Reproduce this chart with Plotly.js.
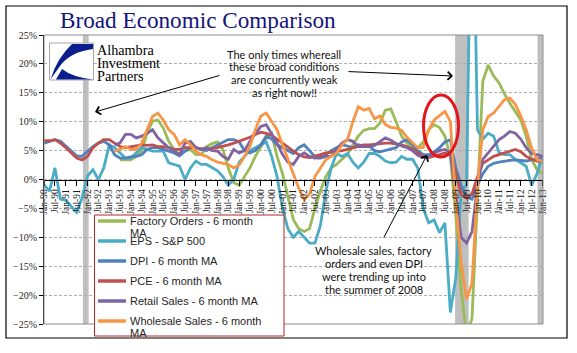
<!DOCTYPE html>
<html><head><meta charset="utf-8">
<script src="https://cdn.plot.ly/plotly-3.0.1.min.js"></script>
<style>html,body{margin:0;padding:0;background:#fff;}#chart{width:577px;height:353px;}</style>
</head><body><div id="chart"></div>
<script>
// ---------- DATA (quarterly readings, % y/y) ----------
const quarters = [
'1990-01','1990-04','1990-07','1990-10','1991-01','1991-04','1991-07','1991-10',
'1992-01','1992-04','1992-07','1992-10','1993-01','1993-04','1993-07','1993-10',
'1994-01','1994-04','1994-07','1994-10','1995-01','1995-04','1995-07','1995-10',
'1996-01','1996-04','1996-07','1996-10','1997-01','1997-04','1997-07','1997-10',
'1998-01','1998-04','1998-07','1998-10','1999-01','1999-04','1999-07','1999-10',
'2000-01','2000-04','2000-07','2000-10','2001-01','2001-04','2001-07','2001-10',
'2002-01','2002-04','2002-07','2002-10','2003-01','2003-04','2003-07','2003-10',
'2004-01','2004-04','2004-07','2004-10','2005-01','2005-04','2005-07','2005-10',
'2006-01','2006-04','2006-07','2006-10','2007-01','2007-04','2007-07','2007-10',
'2008-01','2008-04','2008-07','2008-10','2009-01','2009-04','2009-07','2009-10',
'2010-01','2010-04','2010-07','2010-10','2011-01','2011-04','2011-07','2011-10',
'2012-01','2012-04','2012-07','2012-10','2013-01'];

const seriesNames = ['Factory Orders - 6 month MA','EPS - S&P 500','DPI - 6 month MA',
  'PCE - 6 month MA','Retail Sales - 6 month MA','Wholesale Sales - 6 month MA'];
const seriesColors = ['#9BBB59','#4BACC6','#4F81BD','#C0504D','#8064A2','#F79646'];

const factoryOrders = [null,null,null,null,null,null,null,null,null,null,null,null,null,null,
 3.4,3.4,3.4,4.0,4.9,8.0,10.1,10.3,8.9,6.6,
 5.2,4.3,4.9,5.2,4.3,4.3,5.7,6.2,6.5,5.2,
 2.0,-0.5,-1.0,0.5,2.0,4.0,5.5,7.2,8.0,4.0,
 1.0,-3.0,-6.9,-8.5,-9.0,-8.5,-5.0,-2.0,0.5,2.0,
 2.6,3.5,4.3,6.0,7.5,8.5,8.8,8.8,9.8,12.0,
 12.2,10.0,7.5,6.3,5.7,5.5,6.5,8.6,9.5,9.0,
 7.5,4.0,-6.3,-19.0,-27.0,-24.0,-4.0,17.0,19.8,17.9,
 16.7,14.8,13.2,11.8,10.3,7.5,3.5,1.7,1.1];

const epsSP500 = [-1.0,-2.0,2.0,-3.4,-3.6,-4.6,-5.7,-3.2,0.6,1.7,
 0.0,2.0,6.0,5.5,4.6,3.7,3.7,4.6,5.5,5.2,
 4.9,4.9,4.9,2.9,2.6,2.3,0.0,2.0,3.2,2.6,
 2.6,2.0,1.5,0.5,-1.0,0.0,3.0,4.0,5.0,5.5,
 6.0,6.5,4.0,0.5,-5.0,-8.5,-10.0,-9.0,-10.0,-11.0,
 -11.0,-8.0,-2.0,2.0,4.5,4.0,4.5,3.0,2.0,3.0,
 4.5,4.5,4.0,3.2,2.9,3.0,4.0,3.5,3.5,2.0,
 -5.0,-7.5,-7.0,-9.2,-7.5,-23.0,-17.0,-2.0,-1.0,60,
 8.6,7.0,8.0,7.5,4.6,4.3,4.3,3.5,2.9,2.3,
 -1.0,1.0,4.0];

const dpi = [6.3,6.6,6.9,6.6,5.7,4.9,4.1,4.0,4.9,5.7,
 6.3,6.6,6.0,4.3,3.7,3.7,3.9,4.0,4.3,5.2,
 5.5,5.5,5.2,4.9,4.6,4.1,4.9,5.5,5.5,5.2,
 5.0,5.5,6.0,6.5,6.9,6.9,6.5,5.0,4.6,5.0,
 6.0,7.5,7.0,6.0,5.5,5.0,4.5,5.5,6.0,5.0,
 4.0,3.8,4.3,5.0,5.5,6.0,5.8,5.5,6.0,5.8,
 5.8,5.0,4.8,5.0,5.3,5.5,6.5,6.9,6.0,5.0,
 4.3,4.3,4.8,5.5,6.5,6.9,2.0,-1.0,-3.0,-3.4,
 -1.0,1.0,2.3,2.8,3.0,3.2,3.3,3.4,3.3,3.2,
 3.4,3.6,3.7];

const pce = [6.7,6.7,6.9,6.3,5.5,4.6,3.7,3.4,4.0,5.5,
 6.3,6.9,6.9,6.3,5.7,5.5,5.7,5.9,6.0,5.9,
 6.0,5.7,5.7,5.5,5.2,5.2,5.5,5.5,5.5,5.3,
 5.3,5.4,5.5,5.7,6.0,6.3,6.6,7.0,7.3,7.8,
 8.2,8.0,7.6,7.0,6.3,5.5,4.9,4.3,3.9,3.8,
 4.0,4.3,4.6,4.7,4.9,5.0,5.2,5.5,5.8,6.0,
 6.0,6.1,6.3,6.3,6.3,6.2,6.0,5.7,5.3,4.6,
 4.0,3.8,4.0,4.3,4.6,4.3,1.0,-2.6,-3.2,-2.5,
 0.5,2.8,3.4,4.0,4.3,4.6,5.0,5.2,4.8,4.0,
 3.5,3.2,3.2];

const retailSales = [null,null,null,null,null,null,null,null,null,null,null,null,null,
 6.0,
 6.3,7.8,7.8,7.2,7.5,8.0,8.6,7.2,6.3,5.5,
 4.9,4.3,6.3,6.6,5.5,5.2,5.5,5.0,4.9,4.0,
 3.5,5.2,4.6,5.0,6.6,8.0,9.2,9.5,8.0,6.3,
 4.3,3.0,2.6,4.0,4.6,4.0,3.7,3.7,4.0,4.0,
 5.2,6.3,6.9,6.6,5.7,5.7,5.7,5.9,6.5,7.2,
 6.8,6.2,5.8,5.5,5.0,4.2,3.8,4.0,4.6,5.0,
 5.2,4.6,-3.0,-10.0,-11.0,-9.0,-1.0,3.5,4.6,5.7,
 6.9,7.5,8.3,8.0,7.0,5.5,4.5,4.3,4.0];

const wholesaleSales = [null,null,null,null,null,null,null,null,null,null,null,null,null,
 4.9,
 5.2,5.7,5.2,5.2,6.3,8.6,10.9,11.5,10.3,8.6,
 7.8,6.0,6.9,6.0,4.9,4.3,4.0,3.4,3.0,2.8,
 2.6,2.0,2.5,4.0,5.7,8.6,11.0,11.5,10.0,8.6,
 6.0,3.5,1.0,-1.5,-3.5,-2.5,0.5,2.0,3.4,4.0,
 4.6,6.0,6.9,10.0,12.6,12.0,12.3,10.5,11.0,9.5,
 9.0,8.9,8.5,7.3,6.3,5.5,5.5,8.6,10.3,11.0,
 11.8,10.0,-4.0,-14.4,-20.7,-18.0,-1.0,8.6,10.9,11.5,
 12.6,13.8,14.1,13.0,11.0,8.6,5.5,3.4,3.2];

const tickLabels = ['Jan-90','Jul-90','Jan-91','Jul-91','Jan-92','Jul-92','Jan-93','Jul-93',
 'Jan-94','Jul-94','Jan-95','Jul-95','Jan-96','Jul-96','Jan-97','Jul-97','Jan-98','Jul-98',
 'Jan-99','Jul-99','Jan-00','Jul-00','Jan-01','Jul-01','Jan-02','Jul-02','Jan-03','Jul-03',
 'Jan-04','Jul-04','Jan-05','Jul-05','Jan-06','Jul-06','Jan-07','Jul-07','Jan-08','Jul-08',
 'Jan-09','Jul-09','Jan-10','Jul-10','Jan-11','Jul-11','Jan-12','Jul-12','Jan-13'];

const shadeStart = ['1991-10-15','2008-12-20','2012-10-10'];
const shadeEnd   = ['1992-01-20','2009-08-05','2013-01-10'];

// ---------- LAYOUT HELPERS ----------
const W=577, H=353, ML=44, MR=34, MT=35, MB=29;
const PW=W-ML-MR, PH=H-MT-MB;
const px = x => (x-ML)/PW;
const py = y => (H-MB-y)/PH;
const P = (x,y) => px(x).toFixed(4)+','+py(y).toFixed(4);

const tickVals = tickLabels.map(t => {
  const yy = parseInt(t.slice(4),10);
  const year = yy < 50 ? 2000+yy : 1900+yy;
  return year + (t.startsWith('Jan') ? '-01-01' : '-07-01');
});

const allSeries = [factoryOrders, epsSP500, dpi, pce, retailSales, wholesaleSales];
const traces = allSeries.map((vals,i) => ({
  type:'scatter', mode:'lines', x:quarters, y:vals, name:seriesNames[i],
  line:{color:seriesColors[i], width:2.8}, showlegend:false, connectgaps:false,
  hoverinfo:'skip'
}));

const shapes = [];
shadeStart.forEach((s,i) => shapes.push({type:'rect', xref:'x', yref:'paper', x0:s, x1:shadeEnd[i],
  y0:0, y1:1, fillcolor:'#BFBFBF', line:{width:0}, layer:'between'}));
shapes.push({type:'rect', xref:'paper', yref:'paper', x0:0, x1:1, y0:0, y1:1,
  line:{color:'#8C8C8C', width:1}, layer:'above'});
shapes.push({type:'rect', xref:'paper', yref:'paper', x0:px(6), x1:px(567), y0:py(338), y1:py(6),
  line:{color:'#000', width:1.2}, layer:'above'});
// logo
shapes.push({type:'rect', xref:'paper', yref:'paper', x0:px(49.5), x1:px(93.5), y0:py(80), y1:py(43),
  fillcolor:'#fff', line:{color:'#A6A6A6', width:1}, layer:'above'});
shapes.push({type:'path', xref:'paper', yref:'paper', layer:'above', line:{width:0}, fillcolor:'#0B1F8C',
  path:'M'+P(72,44)+' L'+P(93,44)+' L'+P(93,49)+' Q'+P(70,52)+' '+P(60,66)+' Q'+P(55,73)+' '+P(50.5,79.5)+
       ' Q'+P(57,58)+' '+P(72,44)+' Z'});
shapes.push({type:'path', xref:'paper', yref:'paper', layer:'above', line:{width:0}, fillcolor:'#0B1F8C',
  path:'M'+P(62,69)+' Q'+P(72,77)+' '+P(93,79.5)+' L'+P(56,79.5)+' Z'});
// red ellipse
shapes.push({type:'circle', xref:'paper', yref:'paper', x0:px(423.5), x1:px(458.5), y0:py(157), y1:py(95),
  line:{color:'#E3161B', width:3}, layer:'above'});
// legend box
const LG = {x0:94.5, x1:284, y0:215, y1:336, lx0:98, lx1:126, tx:128, first:221, step:20, wrapDy:12};
shapes.push({type:'rect', xref:'paper', yref:'paper', x0:px(LG.x0), x1:px(LG.x1), y0:py(LG.y1), y1:py(LG.y0),
  fillcolor:'#fff', line:{color:'#B3262B', width:1}, layer:'above'});

const annotations = [];
const sans = 'Lato, "Liberation Sans", sans-serif';
const serif = '"Liberation Serif", "Times New Roman", serif';

seriesNames.forEach((nm,i) => {
  const yc = LG.first + LG.step*i;
  shapes.push({type:'line', xref:'paper', yref:'paper', x0:px(LG.lx0), x1:px(LG.lx1), y0:py(yc), y1:py(yc),
    line:{color:seriesColors[i], width:3.5}, layer:'above'});
  let lines = [nm];
  if (nm.length > 26) { const k = nm.lastIndexOf(' '); lines = [nm.slice(0,k), nm.slice(k+1)]; }
  lines.forEach((t,j) => annotations.push({xref:'paper', yref:'paper', x:px(LG.tx), y:py(yc + j*LG.wrapDy),
    text:t, showarrow:false, xanchor:'left', yanchor:'middle',
    font:{family:'"Liberation Sans", Arial, sans-serif', size:11, color:'#262626'}}));
});

['Alhambra','Investment','Partners'].forEach((t,i) => annotations.push({xref:'paper', yref:'paper',
  x:px(96), y:py(49.5 + 13*i), text:t, showarrow:false, xanchor:'left', yanchor:'middle', borderpad:0,
  font:{family:serif, size:14.2, color:'#000'}}));

['The only times whereall','these broad conditions','are concurrently weak','as right now!!'].forEach((t,i) =>
  annotations.push({xref:'paper', yref:'paper', x:px(284), y:py(54 + 12.8*i), text:t, showarrow:false,
    xanchor:'center', yanchor:'middle', borderpad:0, font:{family:sans, size:11, color:'#111'}}));
['Wholesale sales, factory','orders and even DPI','were trending up into','the summer of 2008'].forEach((t,i) =>
  annotations.push({xref:'paper', yref:'paper', x:px(373.5), y:py(250.5 + 13*i), text:t, showarrow:false,
    xanchor:'center', yanchor:'middle', borderpad:0, font:{family:sans, size:11, color:'#111'}}));

const arrow = (hx,hy,tx,ty) => ({xref:'paper', yref:'paper', x:px(hx), y:py(hy), ax:tx-hx, ay:ty-hy,
  axref:'pixel', ayref:'pixel', text:'', showarrow:true, arrowhead:4, arrowsize:1.6, arrowwidth:1,
  arrowcolor:'#000', standoff:0, startstandoff:0});
annotations.push(arrow(95,112,221,75));
annotations.push(arrow(453,76,347,71.5));
annotations.push(arrow(427,155,383,239));

const layout = {
  width:W, height:H, margin:{l:ML, r:MR, t:MT, b:MB, pad:0},
  paper_bgcolor:'#fff', plot_bgcolor:'#fff', showlegend:false,
  title:{text:'Broad Economic Comparison', font:{family:serif, size:23.2, color:'#14147A'},
    xref:'paper', x:px(60), xanchor:'left', yref:'container', y:1-20/H, yanchor:'middle'},
  xaxis:{type:'date', range:['1989-12-28','2013-01-10'], anchor:'free', position:0.5,
    showline:true, linecolor:'#000', linewidth:1, ticks:'outside', ticklen:5, tickcolor:'#000',
    tickvals:tickVals, ticktext:tickLabels, tickangle:-90, showgrid:false, zeroline:false,
    tickfont:{family:serif, size:9.5, color:'#1a1a1a'}},
  yaxis:{range:[-25,25], dtick:5, tick0:0, ticksuffix:'%', showline:true, linecolor:'#000', linewidth:1,
    ticks:'outside', ticklen:4, tickcolor:'#000', zeroline:false, showgrid:true, gridcolor:'#B0B0B0',
    griddash:'3px,2px', gridwidth:1, tickfont:{family:serif, size:10, color:'#262626'}},
  shapes:shapes, annotations:annotations
};

Plotly.newPlot('chart', traces, layout, {displayModeBar:false, staticPlot:true});
</script></body></html>
